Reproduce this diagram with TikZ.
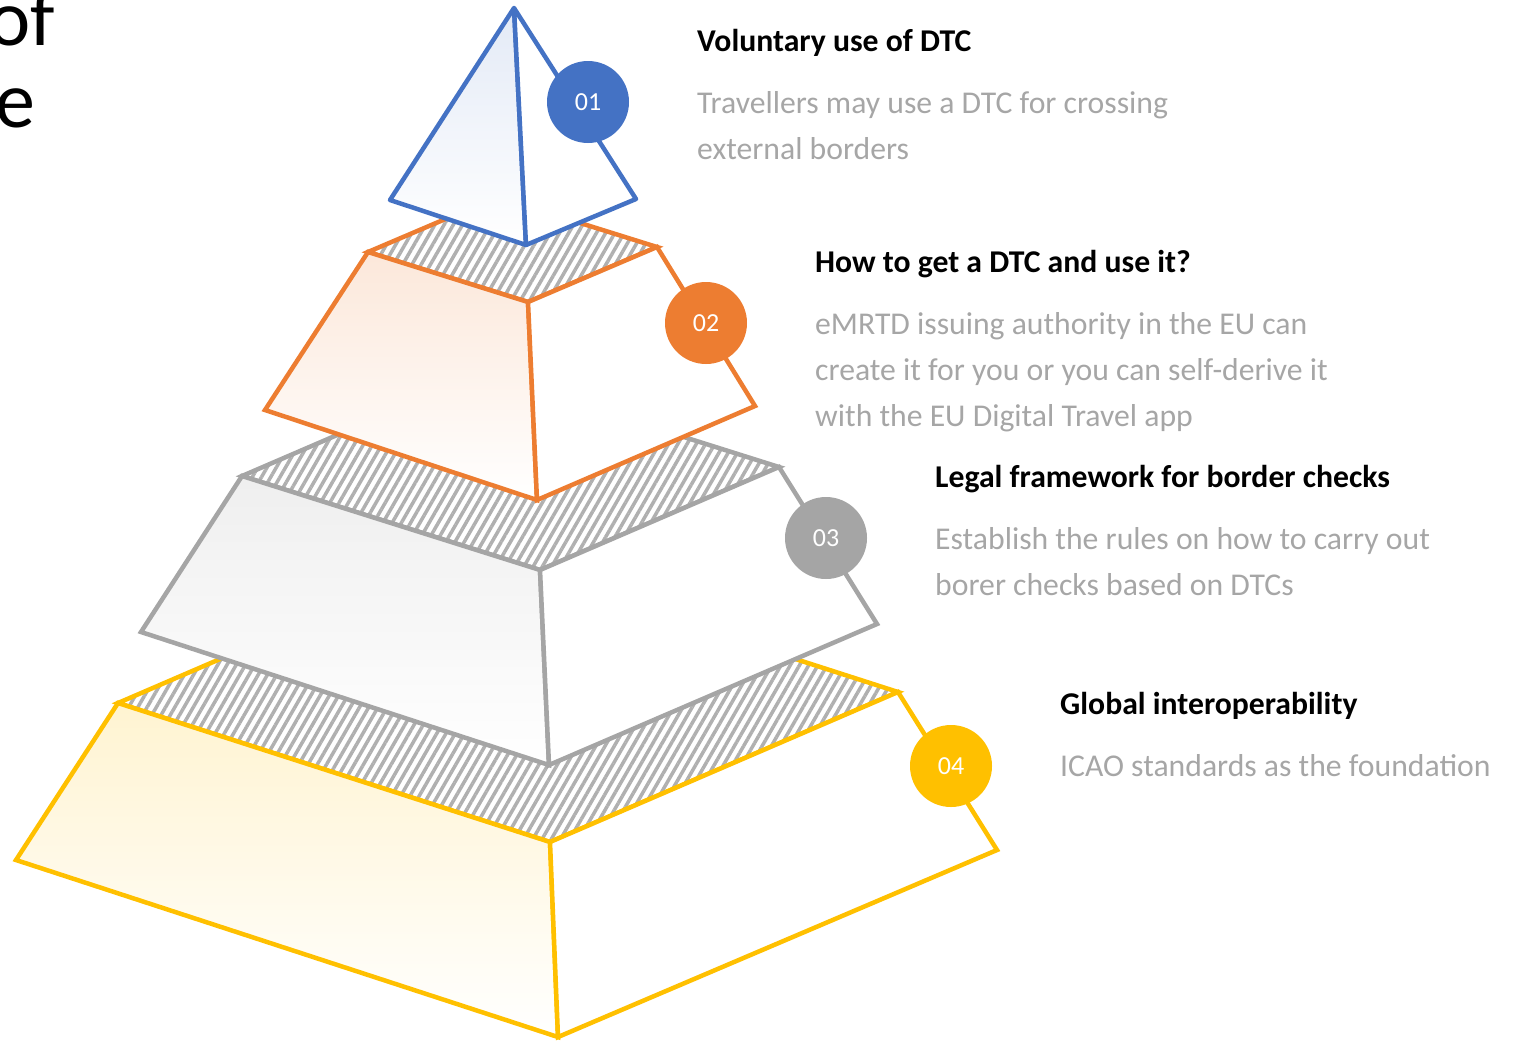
\documentclass[tikz,border=0pt]{standalone}
\usepackage{fontspec}
\setsansfont{Carlito}
\usetikzlibrary{positioning,patterns.meta}
\definecolor{dtcblue}{HTML}{4472C4}
\definecolor{dtcorange}{HTML}{ED7D31}
\definecolor{dtcgray}{HTML}{A5A5A5}
\definecolor{dtcyellow}{HTML}{FFC000}
\definecolor{hatchgray}{HTML}{B0B0B0}
\definecolor{desctext}{HTML}{A6A6A6}
\tikzset{font=\sffamily}
\tikzset{
  face/.style={line width=4.5pt},
  topface/.style={face, preaction={fill=white}, pattern={Lines[angle=60,distance=8pt,line width=3.5pt]}, pattern color=hatchgray},
  frontface/.style={face, top color=#1, bottom color=white},
  sideface/.style={face, fill=white},
  badge/.style={circle, minimum size=82pt, inner sep=0pt, text=white, font=\sffamily\fontsize{26}{30}\selectfont},
  title/.style={anchor=base west, inner sep=0pt, font=\sffamily\bfseries\fontsize{31.7}{46}\selectfont},
  desc/.style={anchor=base west, inner sep=0pt, align=left, text=desctext, font=\sffamily\fontsize{31.7}{46}\selectfont},
  bigword/.style={anchor=base east, inner sep=0pt, font=\sffamily\fontsize{80}{82}\selectfont}
}

\begin{document}
\begin{tikzpicture}[x=1pt,y=-1pt]
    \useasboundingbox (0,0) rectangle (1514,1042);

    % level 4
    \coordinate (l4tl) at (118,703);
    \coordinate (l4tf) at (550,842);
    \coordinate (l4tr) at (898,692);
    \coordinate (l4tb) at (466,553);
    \coordinate (l4bl) at (16,860);
    \coordinate (l4bf) at (558,1037);
    \coordinate (l4br) at (997,850);
    \draw[topface, draw=dtcyellow] (l4tl) -- (l4tb) -- (l4tr) -- (l4tf) -- cycle;
    \draw[frontface=dtcyellow!18, draw=dtcyellow] (l4tl) -- (l4tf) -- (l4bf) -- (l4bl) -- cycle;
    \draw[sideface, draw=dtcyellow] (l4tf) -- (l4tr) -- (l4br) -- (l4bf) -- cycle;

    % level 3
    \coordinate (l3tl) at (242,476);
    \coordinate (l3tf) at (540,570);
    \coordinate (l3tr) at (779,467);
    \coordinate (l3tb) at (481,373);
    \coordinate (l3bl) at (141,632);
    \coordinate (l3bf) at (549,765);
    \coordinate (l3br) at (877,624);
    \draw[topface, draw=dtcgray] (l3tl) -- (l3tb) -- (l3tr) -- (l3tf) -- cycle;
    \draw[frontface=dtcgray!18, draw=dtcgray] (l3tl) -- (l3tf) -- (l3bf) -- (l3bl) -- cycle;
    \draw[sideface, draw=dtcgray] (l3tf) -- (l3tr) -- (l3br) -- (l3bf) -- cycle;

    % level 2
    \coordinate (l2tl) at (368,252);
    \coordinate (l2tf) at (528,302);
    \coordinate (l2tr) at (657,247);
    \coordinate (l2tb) at (497,197);
    \coordinate (l2bl) at (265,410);
    \coordinate (l2bf) at (537,500);
    \coordinate (l2br) at (755,406);
    \draw[topface, draw=dtcorange] (l2tl) -- (l2tb) -- (l2tr) -- (l2tf) -- cycle;
    \draw[frontface=dtcorange!18, draw=dtcorange] (l2tl) -- (l2tf) -- (l2bf) -- (l2bl) -- cycle;
    \draw[sideface, draw=dtcorange] (l2tf) -- (l2tr) -- (l2br) -- (l2bf) -- cycle;

    % level 1
    \coordinate (apex) at (514,8);
    \coordinate (l1bl) at (390,200);
    \coordinate (l1bf) at (526,245);
    \coordinate (l1br) at (636,199);
    \draw[frontface=dtcblue!15, draw=dtcblue, line join=round] (apex) -- (l1bl) -- (l1bf) -- cycle;
    \draw[sideface, draw=dtcblue, line join=round] (apex) -- (l1bf) -- (l1br) -- cycle;

    % badges
    \node[badge, fill=dtcblue] (badge1) at (588,102) {01};
    \node[badge, fill=dtcorange] (badge2) at (706,323) {02};
    \node[badge, fill=dtcgray] (badge3) at (826,538) {03};
    \node[badge, fill=dtcyellow] (badge4) at (951,766) {04};

    % texts
    \node[title] (title1) at (697,51) {Voluntary use of DTC};
    \node[desc, below=108pt of title1.base west, anchor=base west] (desc1) {Travellers may use a DTC for crossing\\external borders};

    \node[title] (title2) at (815,272) {How to get a DTC and use it?};
    \node[desc, below=154pt of title2.base west, anchor=base west] (desc2) {eMRTD issuing authority in the EU can\\create it for you or you can self-derive it\\with the EU Digital Travel app};

    \node[title] (title3) at (935,487) {Legal framework for border checks};
    \node[desc, below=108pt of title3.base west, anchor=base west] (desc3) {Establish the rules on how to carry out\\borer checks based on DTCs};

    \node[title] (title4) at (1060,714) {Global interoperability};
    \node[desc, below=62pt of title4.base west, anchor=base west] (desc4) {ICAO standards as the foundation};

    \node[bigword] (of) at (55,45) {of};
    \node[bigword] (e) at (36,127) {e};
\end{tikzpicture}
\end{document}
